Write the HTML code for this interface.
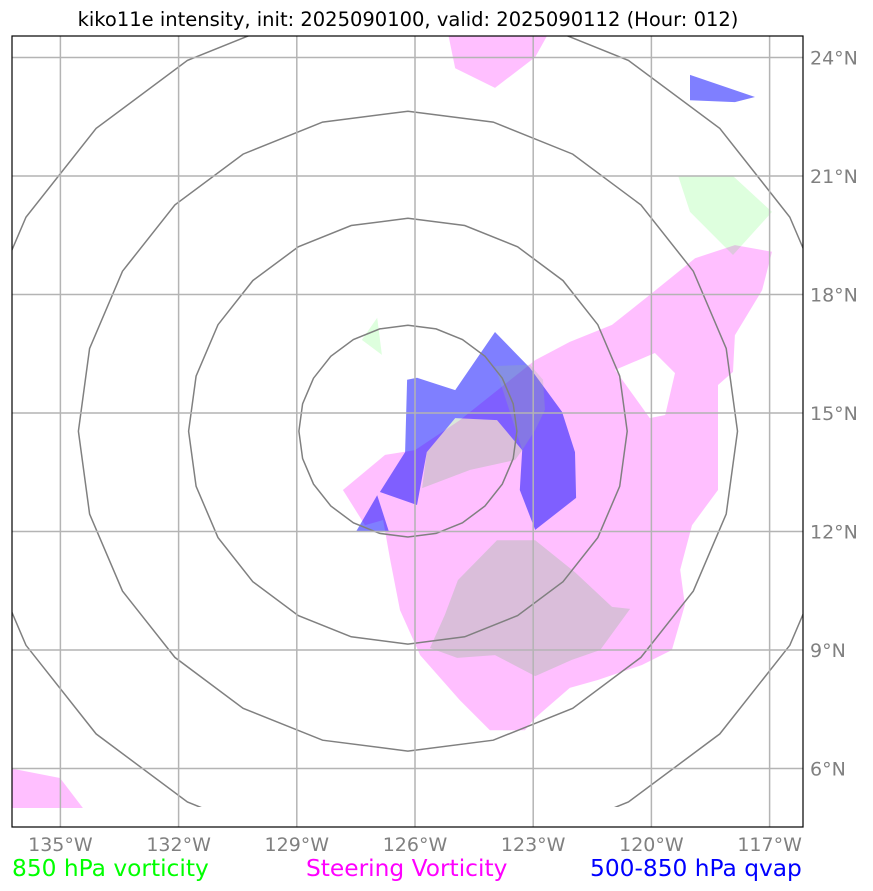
<!DOCTYPE html>
<html><head><meta charset="utf-8"><style>
html,body{margin:0;padding:0;background:#fff;}
svg{display:block;font-family:"DejaVu Sans","Liberation Sans",sans-serif;}
</style></head><body>
<svg id="chart" width="873" height="891" viewBox="0 0 873 891" xmlns="http://www.w3.org/2000/svg">
<defs><clipPath id="mapclip"><rect x="12" y="36" width="791" height="791"/></clipPath>
<clipPath id="ringclip"><rect x="12" y="36" width="791" height="771"/></clipPath></defs>
<text x="408" y="26" font-size="19.5" text-anchor="middle" fill="#000">kiko11e intensity, init: 2025090100, valid: 2025090112 (Hour: 012)</text>
<g id="map" clip-path="url(#mapclip)"></g>
<g id="rings" clip-path="url(#ringclip)"></g>
<g id="grid" clip-path="url(#mapclip)"></g>
<rect x="12" y="36" width="791" height="791" fill="none" stroke="#000" stroke-width="1.2"/>
<g id="ticks"></g>
<text x="12" y="876" font-size="23.3" fill="#00ff00">850 hPa vorticity</text>
<text x="306" y="876" font-size="23.3" fill="#ff00ff">Steering Vorticity</text>
<text x="590" y="876" font-size="23.3" fill="#0000ff">500-850 hPa qvap</text>
</svg>
<script>
const lonTicks = [-135,-132,-129,-126,-123,-120,-117];
const latTicks = [24,21,18,15,12,9,6];
const ringRadiiDeg = [2.68,5.39,8.10,10.84];
const ringCenter = [-126.18,14.54];
const pinkMain = [[-127.83,13.05],[-126.76,13.94],[-126.0,14.06],[-124.86,14.82],[-122.95,16.34],[-122.07,16.80],[-121.0,17.23],[-120.04,17.99],[-118.89,18.92],[-117.88,19.25],[-116.94,19.08],[-117.19,18.11],[-117.88,16.97],[-117.93,16.04],[-118.31,15.71],[-118.31,13.05],[-118.97,12.16],[-119.27,11.03],[-119.15,10.14],[-119.48,9.0],[-120.24,8.62],[-121.36,8.24],[-122.07,8.04],[-122.95,7.28],[-123.21,6.97],[-124.10,6.97],[-124.86,7.73],[-125.87,8.87],[-126.38,10.01],[-126.63,11.28],[-126.81,12.29],[-127.27,12.16]];
const pinkHole = [[-120.92,16.09],[-119.91,16.52],[-119.40,16.01],[-119.65,14.95],[-120.04,14.87],[-120.59,15.63]];
const pinkTop = [[-125.16,24.6],[-122.62,24.6],[-122.95,24.01],[-123.97,23.23],[-124.98,23.73]];
const pinkBL = [[-136.3,6.01],[-135.01,5.76],[-134.43,5.0],[-136.3,5.0]];
const greenA = [[-119.32,21.0],[-117.93,21.0],[-116.94,20.09],[-117.93,19.0],[-119.02,20.09]];
const greenB = [[-127.35,16.85],[-126.96,17.41],[-126.84,16.47]];
const grayA = [[-125.82,13.10],[-125.70,14.01],[-124.98,14.87],[-123.92,14.82],[-123.28,14.06],[-123.46,13.81],[-124.60,13.56]];
const grayB = [[-123.92,11.78],[-122.95,11.78],[-121.94,10.97],[-121.0,10.09],[-120.54,10.04],[-121.30,9.0],[-122.02,8.75],[-122.95,8.34],[-123.97,8.87],[-124.93,8.80],[-125.62,9.05],[-125.24,9.89],[-124.91,10.77]];
const grayC = [[-123.97,16.19],[-123.08,16.22],[-122.75,15.84],[-122.70,15.08],[-122.95,14.57],[-123.28,14.06]];
const blueMain = [[-126.20,15.84],[-125.95,15.89],[-124.98,15.58],[-123.97,17.05],[-123.08,16.14],[-122.27,15.03],[-121.94,14.01],[-121.91,12.85],[-122.95,12.04],[-123.34,13.05],[-123.28,14.06],[-123.92,14.82],[-124.98,14.87],[-125.70,14.01],[-125.95,12.67],[-126.89,13.0],[-126.25,14.01]];
const blueTri = [[-127.50,11.99],[-126.96,12.92],[-126.66,11.99]];
const blueNE = [[-119.02,23.56],[-117.37,23.0],[-117.88,22.87],[-119.02,22.92]];

const NS='http://www.w3.org/2000/svg';
const X = lon => 415 + (lon + 126) * 39.4;
const Y = lat => 413 - (lat - 15) * 39.5;
const pts = a => a.map(p => X(p[0]).toFixed(1)+','+Y(p[1]).toFixed(1)).join(' ');
const map = document.getElementById('map');
function poly(arr, fill, name){
  const e = document.createElementNS(NS,'polygon');
  e.setAttribute('points', pts(arr));
  e.setAttribute('fill', fill);
  
  
  map.appendChild(e);
}
const pm = document.createElementNS(NS,'path');
pm.setAttribute('d','M'+pts(pinkMain)+'Z M'+pts(pinkHole)+'Z');
pm.setAttribute('fill-rule','evenodd');
pm.setAttribute('fill','rgba(255,0,255,0.25)');


map.appendChild(pm);
poly(pinkTop,'rgba(255,0,255,0.25)','steering-vorticity-north');
poly(pinkBL,'rgba(255,0,255,0.25)','steering-vorticity-southwest');
poly(greenA,'rgba(0,255,0,0.13)','vorticity-850-northeast');
poly(greenB,'rgba(0,255,0,0.13)','vorticity-850-small');
poly(grayA,'rgba(150,190,150,0.35)','vorticity-overlap-center');
poly(grayB,'rgba(150,190,150,0.35)','vorticity-overlap-south');
poly(blueMain,'rgba(0,0,255,0.5)','qvap-main');
poly(blueTri,'rgba(0,0,255,0.5)','qvap-triangle');
poly(blueNE,'rgba(0,0,255,0.5)','qvap-northeast');
poly(grayC,'rgba(150,190,150,0.25)','vorticity-overlap-east');

const rings = document.getElementById('rings');
ringRadiiDeg.forEach((r,i)=>{
  const cx = X(ringCenter[0]), cy = Y(ringCenter[1]);
  const rx = r*39.5*1.03, ry = r*39.5;
  const n = 24;
  let p = [];
  for (let k=0;k<n;k++){ const a = 2*Math.PI*k/n; p.push((cx+rx*Math.sin(a)).toFixed(1)+','+(cy-ry*Math.cos(a)).toFixed(1)); }
  const e = document.createElementNS(NS,'polygon');
  e.setAttribute('points', p.join(' '));
  e.setAttribute('fill','none');
  e.setAttribute('stroke','#808080');
  e.setAttribute('stroke-width','1.5');
  
  
  rings.appendChild(e);
});

const grid = document.getElementById('grid'), ticks = document.getElementById('ticks');
lonTicks.forEach(l=>{
  const x = X(l);
  const g = document.createElementNS(NS,'line');
  g.setAttribute('x1',x);g.setAttribute('x2',x);g.setAttribute('y1',36);g.setAttribute('y2',827);
  g.setAttribute('stroke','#b4b4b4');g.setAttribute('stroke-width','1.5');
  
  
  grid.appendChild(g);
  const t = document.createElementNS(NS,'text');
  t.setAttribute('x',x);t.setAttribute('y',851);t.setAttribute('font-size','19');
  t.setAttribute('text-anchor','middle');t.setAttribute('fill','#808080');
  t.textContent = Math.abs(l)+'°W';
  
  
  ticks.appendChild(t);
});
latTicks.forEach(l=>{
  const y = Y(l);
  const g = document.createElementNS(NS,'line');
  g.setAttribute('x1',12);g.setAttribute('x2',803);g.setAttribute('y1',y);g.setAttribute('y2',y);
  g.setAttribute('stroke','#b4b4b4');g.setAttribute('stroke-width','1.5');
  
  
  grid.appendChild(g);
  const t = document.createElementNS(NS,'text');
  t.setAttribute('x',810);t.setAttribute('y',y+7);t.setAttribute('font-size','19');
  t.setAttribute('fill','#808080');
  t.textContent = l+'°N';
  
  
  ticks.appendChild(t);
});
</script>
</body></html>
